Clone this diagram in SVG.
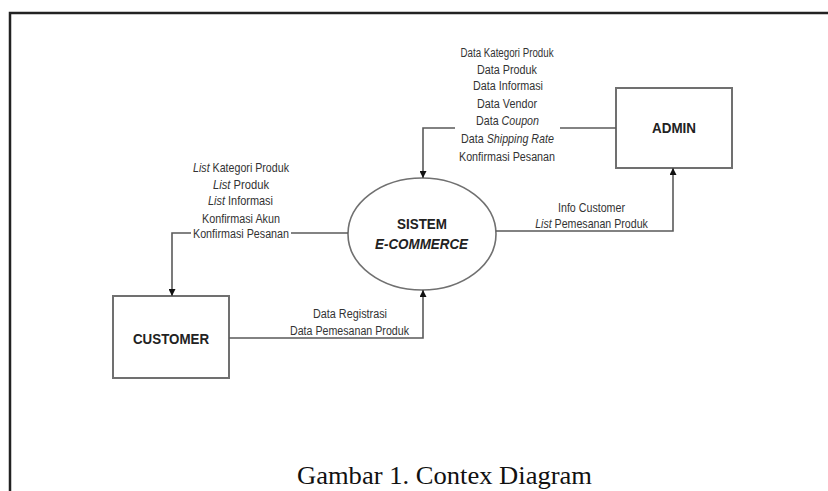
<svg xmlns="http://www.w3.org/2000/svg" width="828" height="491" viewBox="0 0 828 491">
<style>
.box{fill:#fff;stroke:#707070;stroke-width:2}
.ln{fill:none;stroke:#5a5a5a;stroke-width:1.6}
.lbl{font-family:"Liberation Sans",Arial,sans-serif;font-size:12.5px;fill:#333;text-anchor:middle}
.nm{font-family:"Liberation Sans",Arial,sans-serif;font-size:15px;font-weight:bold;fill:#222;text-anchor:middle}
.it{font-style:italic}
</style>
<defs>
<marker id="ah" viewBox="0 0 10 10" refX="10" refY="5" markerWidth="7" markerHeight="7" markerUnits="userSpaceOnUse" orient="auto">
<path d="M0,0 L10,5 L0,10 z" fill="#111"/>
</marker>
</defs>
<rect width="828" height="491" fill="#fff"/>
<path d="M10,491 V13 H828" fill="none" stroke="#222" stroke-width="2.5"/>

<g id="admin">
<rect class="box" x="616" y="88" width="116" height="80"/>
<text class="nm" x="674" y="133" textLength="44" lengthAdjust="spacingAndGlyphs">ADMIN</text>
</g>
<g id="customer">
<rect class="box" x="113" y="296" width="116" height="82"/>
<text class="nm" x="171" y="344" textLength="76" lengthAdjust="spacingAndGlyphs">CUSTOMER</text>
</g>
<g id="sistem">
<ellipse cx="422" cy="234" rx="74" ry="56" fill="#fff" stroke="#707070" stroke-width="1.6"/>
<text class="nm" x="422" y="229" textLength="50" lengthAdjust="spacingAndGlyphs">SISTEM</text>
<text class="nm it" x="421.5" y="249" textLength="93" lengthAdjust="spacingAndGlyphs">E-COMMERCE</text>
</g>

<g id="connectors">
<path class="ln" d="M616,128 H560"/>
<path class="ln" d="M455,128 H423 V178" marker-end="url(#ah)"/>
<path class="ln" d="M348,233 H291"/>
<path class="ln" d="M191,233 H172 V296" marker-end="url(#ah)"/>
<path class="ln" d="M229,338 H423 V290" marker-end="url(#ah)"/>
<path class="ln" d="M496,231 H673 V168" marker-end="url(#ah)"/>
</g>

<g id="labels">
<text class="lbl" x="507" y="56.5" textLength="93" lengthAdjust="spacingAndGlyphs">Data Kategori Produk</text>
<text class="lbl" x="507" y="73.5" textLength="60" lengthAdjust="spacingAndGlyphs">Data Produk</text>
<text class="lbl" x="508" y="89.5" textLength="70" lengthAdjust="spacingAndGlyphs">Data Informasi</text>
<text class="lbl" x="507" y="107.5" textLength="60" lengthAdjust="spacingAndGlyphs">Data Vendor</text>
<text class="lbl" x="0" y="0" transform="translate(507.5,125) scale(0.855,1)">Data <tspan class="it">Coupon</tspan></text>
<text class="lbl" x="0" y="0" transform="translate(507.5,142.5) scale(0.858,1)">Data <tspan class="it">Shipping Rate</tspan></text>
<text class="lbl" x="507" y="160.5" textLength="96" lengthAdjust="spacingAndGlyphs">Konfirmasi Pesanan</text>

<text class="lbl" x="0" y="0" transform="translate(241,171.5) scale(0.853,1)"><tspan class="it">List</tspan> Kategori Produk</text>
<text class="lbl" x="0" y="0" transform="translate(241,188.5) scale(0.896,1)"><tspan class="it">List</tspan> Produk</text>
<text class="lbl" x="0" y="0" transform="translate(240.5,204.5) scale(0.875,1)"><tspan class="it">List</tspan> Informasi</text>
<text class="lbl" x="241" y="222.5" textLength="78" lengthAdjust="spacingAndGlyphs">Konfirmasi Akun</text>
<text class="lbl" x="241" y="237.5" textLength="96" lengthAdjust="spacingAndGlyphs">Konfirmasi Pesanan</text>

<text class="lbl" x="591.5" y="211.5" textLength="67" lengthAdjust="spacingAndGlyphs">Info Customer</text>
<text class="lbl" x="0" y="0" transform="translate(591.5,227.5) scale(0.85,1)"><tspan class="it">List</tspan> Pemesanan Produk</text>

<text class="lbl" x="350" y="317.5" textLength="74" lengthAdjust="spacingAndGlyphs">Data Registrasi</text>
<text class="lbl" x="349.5" y="334.5" textLength="119" lengthAdjust="spacingAndGlyphs">Data Pemesanan Produk</text>
</g>

<text x="444.5" y="484" font-family="'Liberation Serif','Times New Roman',serif" font-size="26" fill="#111" text-anchor="middle" textLength="295" lengthAdjust="spacingAndGlyphs">Gambar 1. Contex Diagram</text>
</svg>
